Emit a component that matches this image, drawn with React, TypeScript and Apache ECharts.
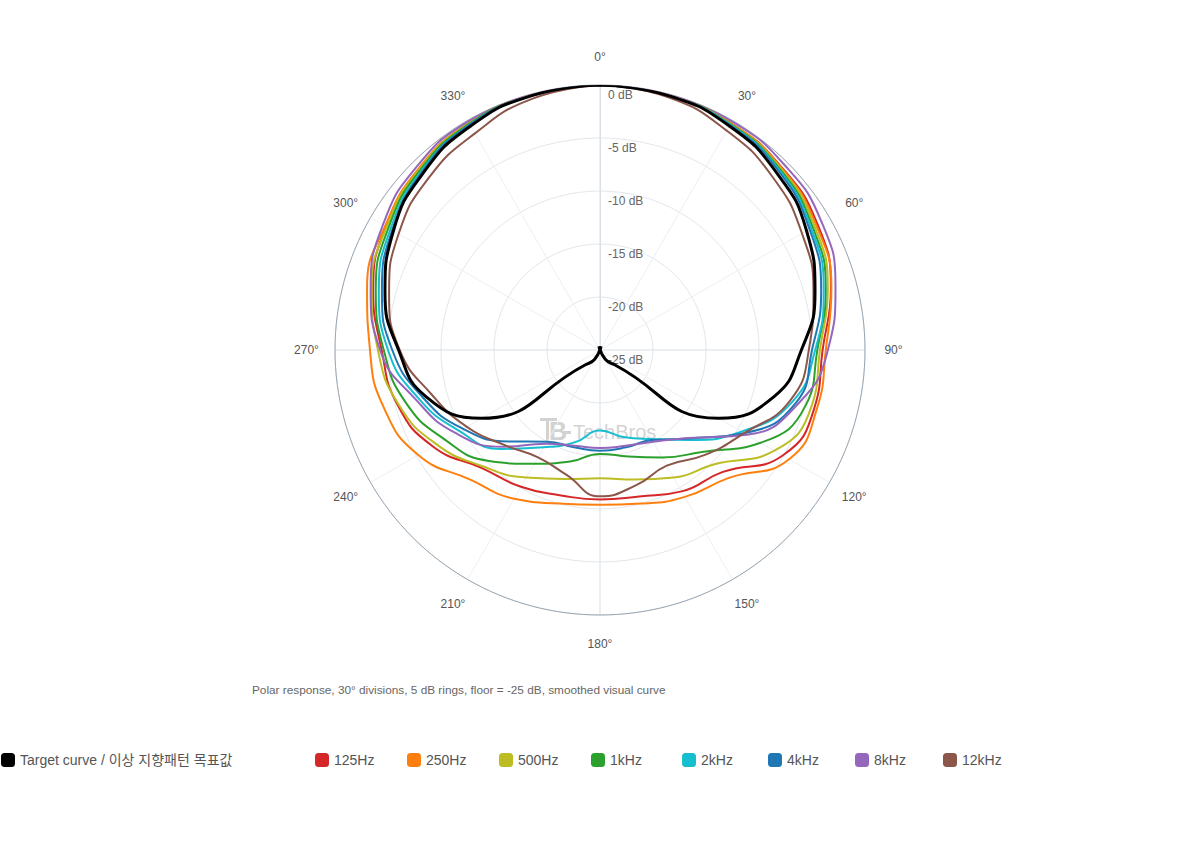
import React, { useEffect, useRef } from "react";
import * as echarts from "echarts";

// Angles (degrees, clockwise from top) at which each response is read
const ANGLES = [
  0, 15, 30, 45, 60, 75, 90, 105, 120, 135, 150, 165, 180,
  195, 210, 225, 240, 255, 270, 285, 300, 315, 330, 345, 360,
];
const ANGLE_TICK_STEP = 30;
const DB_MIN = -25;
const DB_MAX = 0;
const DB_STEP = 5;

const SERIES_NAMES = [
  "Target curve / 이상 지향패턴 목표값",
  "125Hz",
  "250Hz",
  "500Hz",
  "1kHz",
  "2kHz",
  "4kHz",
  "8kHz",
  "12kHz",
];

const COLORS = [
  "#000000",
  "#d62728",
  "#ff7f0e",
  "#bcbd22",
  "#2ca02c",
  "#17becf",
  "#1f77b4",
  "#9467bd",
  "#8c564b",
];

// Values in dB, one per angle in ANGLES
const target = [0, -0.15, -0.6, -1.4, -2.5, -4.0, -6.0, -8.0, -12.1, -23.0, -24.0, -25.35, -25, -25.35, -24.0, -23.0, -12.1, -8.0, -6.0, -4.0, -2.5, -1.4, -0.6, -0.15, 0];
const hz125 = [0, -0.1, -0.3, -0.7, -1.3, -2.45, -4.0, -4.05, -5.1, -8.7, -9.6, -10.7, -10.9, -10.8, -10.1, -9.25, -6.8, -5.2, -4.4, -2.85, -1.7, -0.9, -0.3, -0.1, 0];
const hz250 = [0, -0.08, -0.3, -0.75, -1.45, -2.4, -3.7, -3.8, -4.4, -7.9, -9.0, -10.0, -10.4, -10.0, -8.8, -7.7, -5.2, -3.9, -3.3, -2.25, -1.6, -0.8, -0.25, -0.08, 0];
const hz500 = [0, -0.1, -0.35, -0.85, -1.63, -2.75, -4.25, -4.35, -6.0, -9.75, -11.1, -12.35, -12.9, -12.4, -11.1, -9.45, -7.2, -5.3, -4.05, -2.7, -1.77, -0.9, -0.3, -0.1, 0];
const khz1 = [0, -0.12, -0.4, -0.95, -1.83, -2.95, -4.5, -4.9, -7.5, -11.4, -13.3, -14.6, -15.2, -14.1, -12.6, -10.2, -8.1, -6.0, -4.6, -3.1, -1.96, -1.0, -0.35, -0.1, 0];
const khz2 = [0, -0.15, -0.45, -1.05, -2.0, -3.15, -4.7, -6.2, -9.6, -13.0, -15.3, -16.5, -17.4, -16.0, -14.4, -11.8, -9.7, -7.3, -5.0, -3.4, -2.18, -1.15, -0.45, -0.15, 0];
const khz4 = [0, -0.15, -0.5, -1.15, -2.18, -3.4, -5.0, -5.85, -9.3, -13.2, -15.2, -15.5, -15.5, -15.5, -15.0, -12.8, -10.1, -7.7, -5.4, -3.7, -2.37, -1.25, -0.45, -0.15, 0];
const khz8 = [0, -0.03, -0.1, -0.35, -0.86, -2.0, -3.5, -5.6, -9.0, -13.25, -15.0, -15.65, -15.75, -15.65, -14.8, -12.1, -9.3, -7.0, -4.25, -2.6, -1.36, -0.55, -0.1, -0.03, 0];
const khz12 = [0, -0.3, -1.1, -1.95, -3.0, -4.15, -5.3, -6.45, -9.3, -11.0, -12.4, -11.8, -11.2, -12.8, -13.3, -12.3, -10.5, -8.6, -6.1, -4.4, -3.07, -2.1, -1.4, -0.45, 0];

const SERIES_VALUES = [target, hz125, hz250, hz500, khz1, khz2, khz4, khz8, khz12];

const CAPTION =
  "Polar response, 30° divisions, 5 dB rings, floor = -25 dB, smoothed visual curve";

const FONT = "'Liberation Sans', Arial, 'Noto Sans CJK KR', sans-serif";

// Layout: left edge of each legend entry (px)
const LEGEND_LEFT = [1, 315, 407, 499, 591, 682, 768, 855, 943];

export default function App() {
  const ref = useRef<HTMLDivElement>(null);

  useEffect(() => {
    document.body.style.margin = "0";
    if (!ref.current) return;
    const chart = echarts.init(ref.current, undefined, { renderer: "svg" });

    const series = SERIES_NAMES.map((name, i) => ({
      name,
      type: "line",
      coordinateSystem: "polar",
      smooth: true,
      showSymbol: false,
      symbol: "none",
      z: i === 0 ? 4 : 3,
      lineStyle: { width: i === 0 ? 3 : 2, color: COLORS[i] },
      itemStyle: { color: COLORS[i] },
      data: SERIES_VALUES[i].map((v, k) => [v, ANGLES[k]]),
    }));

    const legends = SERIES_NAMES.map((name, i) => ({
      data: [name],
      left: LEGEND_LEFT[i],
      top: 753,
      padding: 0,
      icon: "roundRect",
      itemWidth: 14,
      itemHeight: 14,
      textStyle: { color: "#555", fontSize: 14, fontFamily: FONT },
    }));

    chart.setOption({
      animation: false,
      textStyle: { fontFamily: FONT },
      polar: { center: [600, 350], radius: 265 },
      angleAxis: {
        type: "value",
        min: 0,
        max: 360,
        interval: ANGLE_TICK_STEP,
        startAngle: 90,
        clockwise: true,
        axisLine: { show: true, lineStyle: { color: "#9ba7b2", width: 1 } },
        axisTick: { show: false },
        axisLabel: {
          margin: 28,
          formatter: (v: number) => `{a|${v}°}`,
          rich: {
            a: {
              width: 1,
              lineHeight: 1,
              align: "center",
              verticalAlign: "middle",
              fontSize: 12,
              color: "#555",
              fontFamily: FONT,
            },
          },
        },
        splitLine: {
          show: true,
          lineStyle: { color: ["#d9dfe5", "#eceff2", "#eceff2"], width: 1 },
        },
      },
      radiusAxis: {
        type: "value",
        min: DB_MIN,
        max: DB_MAX,
        interval: DB_STEP,
        axisLine: { show: true, lineStyle: { color: "#d9dfe5" } },
        axisTick: { show: false },
        axisLabel: {
          formatter: "{value} dB",
          color: "#666",
          fontSize: 12,
          align: "left",
          verticalAlign: "top",
          padding: [4, 0, 0, 0],
          margin: -8,
        },
        splitLine: { show: true, lineStyle: { color: "#e3e7eb", width: 1 } },
      },
      legend: legends,
      graphic: [
        {
          type: "group",
          z: 0,
          silent: true,
          children: [
            { type: "rect", shape: { x: 540, y: 418, width: 17, height: 3 }, style: { fill: "#d2d2d2" } },
            { type: "rect", shape: { x: 546, y: 418, width: 3, height: 25 }, style: { fill: "#d2d2d2" } },
            {
              type: "text",
              x: 549,
              y: 431,
              style: { text: "B", fontSize: 25, fontWeight: "bold", fill: "#d2d2d2", verticalAlign: "middle", fontFamily: FONT },
            },
            { type: "rect", shape: { x: 562, y: 431, width: 9, height: 3 }, style: { fill: "#d2d2d2" } },
            {
              type: "text",
              x: 573,
              y: 432,
              style: { text: "TechBros", fontSize: 20, fill: "#d4d4d4", verticalAlign: "middle", fontFamily: FONT },
            },
          ],
        },
        {
          type: "text",
          left: 252,
          top: 684,
          style: { text: CAPTION, fontSize: 11.8, fill: "#666", fontFamily: FONT },
        },
      ],
      series,
    });

    return () => chart.dispose();
  }, []);

  return <div ref={ref} style={{ width: 1200, height: 860 }} />;
}
